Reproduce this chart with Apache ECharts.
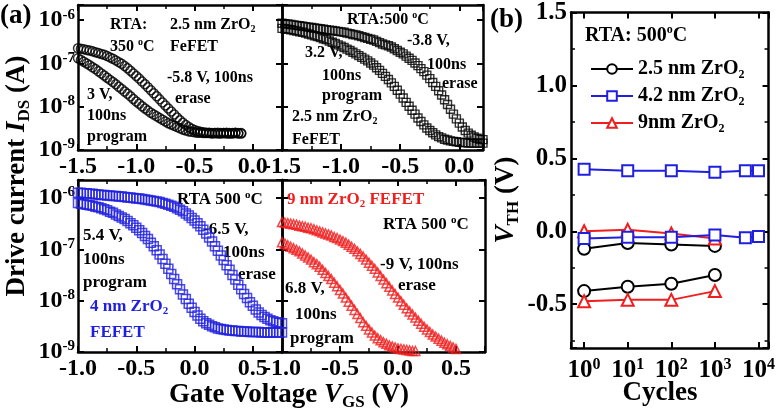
<!DOCTYPE html>
<html><head><meta charset="utf-8">
<script src="https://cdn.jsdelivr.net/npm/echarts@6/dist/echarts.min.js"></script>
<style>html,body{margin:0;padding:0;background:#fff}#c{width:778px;height:413px}</style>
</head><body><div id="c"></div>
<script>
const FONT = '"Liberation Serif","Times New Roman",Times,serif';

// ---------- Panel (a): gate voltage sweeps (V) ----------
const vgsTop = [-1.5,-1.475,-1.45,-1.425,-1.4,-1.375,-1.35,-1.325,-1.3,-1.275,-1.25,-1.225,-1.2,-1.175,-1.15,-1.125,-1.1,-1.075,-1.05,-1.025,-1.0,-0.975,-0.95,-0.925,-0.9,-0.875,-0.85,-0.825,-0.8,-0.775,-0.75,-0.725,-0.7,-0.675,-0.65,-0.625,-0.6,-0.575,-0.55,-0.525,-0.5,-0.475,-0.45,-0.425,-0.4,-0.375,-0.35,-0.325,-0.3,-0.275,-0.25,-0.225,-0.2,-0.175,-0.15,-0.125,-0.1,-0.075,-0.05,-0.025,0.0,0.025,0.05,0.075,0.1,0.125,0.15,0.175,0.2];
const vgsBottom = [-1.0,-0.975,-0.95,-0.925,-0.9,-0.875,-0.85,-0.825,-0.8,-0.775,-0.75,-0.725,-0.7,-0.675,-0.65,-0.625,-0.6,-0.575,-0.55,-0.525,-0.5,-0.475,-0.45,-0.425,-0.4,-0.375,-0.35,-0.325,-0.3,-0.275,-0.25,-0.225,-0.2,-0.175,-0.15,-0.125,-0.1,-0.075,-0.05,-0.025,0.0,0.025,0.05,0.075,0.1,0.125,0.15,0.175,0.2,0.225,0.25,0.275,0.3,0.325,0.35,0.375,0.4,0.425,0.45,0.475,0.5,0.525,0.55,0.575,0.6,0.625,0.65,0.675,0.7,0.725,0.75];

// log10 of drive current I_DS (A)
// 2.5 nm ZrO2, RTA 350 C (circles)
const logI_350_erase = [-6.65,-6.66,-6.67,-6.69,-6.70,-6.72,-6.74,-6.76,-6.78,-6.80,-6.83,-6.86,-6.89,-6.93,-6.97,-7.01,-7.06,-7.11,-7.17,-7.23,-7.29,-7.35,-7.42,-7.48,-7.55,-7.62,-7.69,-7.76,-7.83,-7.90,-7.97,-8.04,-8.11,-8.18,-8.25,-8.31,-8.37,-8.42,-8.47,-8.51,-8.54,-8.56,-8.58,-8.59,-8.60,-8.60,-8.61,-8.61,-8.60,-8.61,-8.61,-8.60,-8.61,-8.61,-8.60,-8.61,-8.61];
const logI_350_prog = [-6.88,-6.92,-6.96,-7.00,-7.04,-7.09,-7.13,-7.18,-7.23,-7.28,-7.33,-7.38,-7.43,-7.48,-7.54,-7.59,-7.65,-7.70,-7.76,-7.82,-7.88,-7.93,-7.99,-8.04,-8.09,-8.14,-8.18,-8.22,-8.26,-8.30,-8.34,-8.38,-8.41,-8.44,-8.47,-8.50,-8.53,-8.55,-8.57,-8.58,-8.59,-8.60,-8.60,-8.61,-8.61,-8.61,-8.62,-8.61,-8.62,-8.62,-8.61,-8.62,-8.62,-8.62,-8.61,-8.62,-8.62];
// 2.5 nm ZrO2, RTA 500 C (squares)
const logI_500_erase = [-6.07,-6.08,-6.09,-6.10,-6.11,-6.12,-6.13,-6.14,-6.15,-6.16,-6.17,-6.18,-6.19,-6.20,-6.21,-6.22,-6.23,-6.24,-6.25,-6.26,-6.27,-6.28,-6.30,-6.31,-6.33,-6.34,-6.36,-6.38,-6.40,-6.42,-6.44,-6.46,-6.49,-6.52,-6.55,-6.57,-6.59,-6.62,-6.66,-6.70,-6.74,-6.78,-6.83,-6.88,-6.93,-6.99,-7.05,-7.12,-7.19,-7.27,-7.35,-7.44,-7.53,-7.63,-7.73,-7.84,-7.95,-8.06,-8.17,-8.28,-8.38,-8.47,-8.55,-8.61,-8.66,-8.70,-8.73,-8.75,-8.76];
const logI_500_prog = [-6.19,-6.20,-6.21,-6.22,-6.24,-6.25,-6.27,-6.28,-6.30,-6.32,-6.34,-6.36,-6.38,-6.40,-6.43,-6.45,-6.48,-6.51,-6.54,-6.57,-6.60,-6.63,-6.67,-6.70,-6.74,-6.78,-6.82,-6.86,-6.90,-6.94,-6.99,-7.04,-7.10,-7.16,-7.23,-7.30,-7.37,-7.45,-7.53,-7.62,-7.71,-7.80,-7.90,-7.99,-8.08,-8.17,-8.26,-8.34,-8.42,-8.49,-8.55,-8.60,-8.65,-8.69,-8.72,-8.75,-8.77,-8.79,-8.80,-8.81,-8.82,-8.83,-8.83,-8.84,-8.84,-8.84,-8.84,-8.84,-8.84];
// 4 nm ZrO2 (blue squares)
const logI_4nm_erase = [-5.90,-5.90,-5.91,-5.91,-5.92,-5.92,-5.93,-5.93,-5.94,-5.94,-5.95,-5.95,-5.96,-5.96,-5.97,-5.97,-5.98,-5.99,-5.99,-6.00,-6.01,-6.01,-6.02,-6.03,-6.04,-6.05,-6.06,-6.07,-6.08,-6.10,-6.11,-6.13,-6.15,-6.17,-6.20,-6.23,-6.26,-6.30,-6.34,-6.39,-6.44,-6.49,-6.55,-6.62,-6.69,-6.77,-6.85,-6.94,-7.03,-7.12,-7.21,-7.31,-7.40,-7.50,-7.59,-7.69,-7.78,-7.87,-7.95,-8.03,-8.10,-8.17,-8.23,-8.28,-8.32,-8.35,-8.38,-8.40,-8.42,-8.43,-8.44];
const logI_4nm_prog = [-6.10,-6.11,-6.12,-6.13,-6.14,-6.15,-6.17,-6.18,-6.20,-6.22,-6.24,-6.27,-6.29,-6.32,-6.35,-6.38,-6.41,-6.45,-6.49,-6.53,-6.58,-6.63,-6.68,-6.74,-6.80,-6.87,-6.94,-7.02,-7.10,-7.19,-7.28,-7.38,-7.48,-7.58,-7.68,-7.78,-7.88,-7.97,-8.06,-8.14,-8.22,-8.29,-8.35,-8.40,-8.44,-8.47,-8.50,-8.52,-8.54,-8.55,-8.56,-8.57,-8.58,-8.58,-8.59,-8.59,-8.60,-8.60,-8.60,-8.61,-8.61,-8.61,-8.61,-8.62,-8.62,-8.62,-8.62,-8.62,-8.62,-8.62,-8.62];
// 9 nm ZrO2 (red triangles)
const logI_9nm_erase = [-6.47,-6.48,-6.49,-6.50,-6.51,-6.52,-6.54,-6.55,-6.56,-6.58,-6.59,-6.61,-6.63,-6.65,-6.67,-6.69,-6.71,-6.73,-6.76,-6.78,-6.81,-6.84,-6.87,-6.91,-6.95,-6.99,-7.04,-7.09,-7.14,-7.20,-7.26,-7.32,-7.38,-7.45,-7.52,-7.59,-7.66,-7.73,-7.80,-7.87,-7.94,-8.01,-8.08,-8.15,-8.21,-8.27,-8.33,-8.39,-8.45,-8.51,-8.56,-8.61,-8.66,-8.70,-8.74,-8.78,-8.82,-8.85,-8.88,-8.91,-8.94];
const logI_9nm_prog = [-6.86,-6.89,-6.92,-6.95,-6.98,-7.01,-7.04,-7.08,-7.12,-7.16,-7.20,-7.25,-7.29,-7.34,-7.40,-7.46,-7.52,-7.58,-7.65,-7.72,-7.79,-7.86,-7.94,-8.02,-8.10,-8.18,-8.26,-8.34,-8.42,-8.49,-8.56,-8.62,-8.68,-8.73,-8.77,-8.81,-8.84,-8.87,-8.89,-8.91,-8.93,-8.94,-8.95,-8.96,-8.97,-8.98,-8.98];

// ---------- Panel (b): V_TH vs cycles ----------
const cycles4 = [1, 10, 100, 1000];
const cycles6 = [1, 10, 100, 1000, 5000, 10000];
const vth25_hi = [-0.12, -0.08, -0.09, -0.10];
const vth25_lo = [-0.41, -0.38, -0.36, -0.30];
const vth42_hi = [0.425, 0.415, 0.415, 0.405, 0.415, 0.415];
const vth42_lo = [-0.05, -0.04, -0.04, -0.025, -0.045, -0.035];
const vth9_hi = [0.0, 0.01, -0.015, -0.05];
const vth9_lo = [-0.48, -0.47, -0.47, -0.41];

const BLUE = '#1f1fe0', RED = '#f01e1e';

const pairsLog = (xs, ys) => ys.map((y, k) => [xs[k], Math.pow(10, y)]);
const pairs = (xs, ys) => ys.map((y, k) => [xs[k], y]);

function rs(size, color) {
  const c = color || '#000';
  const base = {fontFamily: FONT, fontWeight: 'bold', color: c, fill: c, fontSize: size, lineHeight: Math.round(size * 1.2)};
  const small = Math.round(size * 0.62);
  return {
    n: base,
    i: Object.assign({}, base, {fontStyle: 'italic'}),
    sub: Object.assign({}, base, {fontSize: small, lineHeight: small, verticalAlign: 'bottom'}),
    sup: Object.assign({}, base, {fontSize: small, lineHeight: small, verticalAlign: 'top'})
  };
}
const tickRich = (size) => ({
  b: {fontFamily: FONT, fontWeight: 'bold', fontSize: size, color: '#000', lineHeight: size + 2},
  s: {fontFamily: FONT, fontWeight: 'bold', fontSize: Math.round(size * 0.62), color: '#000', lineHeight: Math.round(size * 0.62), verticalAlign: 'top'}
});
const isPow10 = v => { const e = Math.log10(v); return Math.abs(e - Math.round(e)) < 1e-6; };

const lineW = 2.5;
function vx(grid, min, max, pos, labels) {
  return {type: 'value', gridIndex: grid, min: min, max: max, interval: 0.5, position: pos,
    axisLine: {show: true, onZero: false, lineStyle: {color: '#000', width: lineW}},
    axisTick: {show: true, inside: true, length: 6, lineStyle: {color: '#000', width: 2}},
    minorTick: {show: true, splitNumber: 2, length: 4, lineStyle: {color: '#000', width: 1.5}},
    splitLine: {show: false}, minorSplitLine: {show: false},
    axisLabel: {show: labels, margin: 5, fontFamily: FONT, fontWeight: 'bold', fontSize: 24, color: '#000',
      formatter: v => Math.abs(v * 2 - Math.round(v * 2)) < 1e-6 ? v.toFixed(1) : ''}
  };
}
function ly(grid, pos, labels) {
  return {type: 'log', logBase: 10, gridIndex: grid, min: 1e-9, max: 2.24e-6, position: pos,
    axisLine: {show: true, onZero: false, lineStyle: {color: '#000', width: lineW}},
    axisTick: {show: true, inside: true, length: 6, lineStyle: {color: '#000', width: 2}},
    splitLine: {show: false},
    axisLabel: {show: labels, margin: 3, formatter: v => isPow10(v) ? '{b|10}{s|' + Math.round(Math.log10(v)) + '}' : '', rich: tickRich(24)}
  };
}
function cx(pos, labels) {
  return {type: 'log', logBase: 10, gridIndex: 4, min: 0.5, max: 17000, position: pos,
    axisLine: {show: true, onZero: false, lineStyle: {color: '#000', width: lineW}},
    axisTick: {show: true, inside: true, length: 6, lineStyle: {color: '#000', width: 2}},
    splitLine: {show: false},
    axisLabel: {show: labels, margin: 9, formatter: v => isPow10(v) ? '{b|10}{s|' + Math.round(Math.log10(v)) + '}' : '', rich: tickRich(25)}
  };
}
function vy(pos, labels) {
  return {type: 'value', gridIndex: 4, min: -0.8, max: 1.5, splitNumber: 5, position: pos,
    axisLine: {show: true, onZero: false, lineStyle: {color: '#000', width: lineW}},
    axisTick: {show: true, inside: true, length: 6, lineStyle: {color: '#000', width: 2}},
    minorTick: {show: true, splitNumber: 2, length: 4, lineStyle: {color: '#000', width: 1.5}},
    splitLine: {show: false}, minorSplitLine: {show: false},
    axisLabel: {show: labels, margin: 4, fontFamily: FONT, fontWeight: 'bold', fontSize: 25, color: '#000', showMinLabel: false,
      formatter: v => Math.abs(v * 2 - Math.round(v * 2)) < 1e-6 ? v.toFixed(1) : ''}
  };
}

function sc(grid, xs, ys, symbol, size, color, bw) {
  return {type: 'scatter', xAxisIndex: grid * 2, yAxisIndex: grid * 2, data: pairsLog(xs, ys),
    symbol: symbol, symbolSize: size, silent: true,
    itemStyle: {color: 'rgba(255,255,255,0)', borderColor: color, borderWidth: bw}};
}
function ln(name, xs, ys, symbol, size, color) {
  return {type: 'line', name: name, xAxisIndex: 8, yAxisIndex: 8, data: pairs(xs, ys),
    symbol: symbol, symbolSize: size, showAllSymbol: true,
    lineStyle: {color: color, width: 2}, itemStyle: {color: color, borderColor: color, borderWidth: 1.8}};
}

function T(x, y, text, size, color) {
  return {type: 'text', x: x, y: y, silent: true,
    style: {text: text, rich: rs(size, color), align: 'left', verticalAlign: 'middle'}};
}
function TC(x, y, text, size, rot) {
  return {type: 'text', x: x, y: y, silent: true, rotation: rot || 0,
    style: {text: text, rich: rs(size, '#000'), align: 'center', verticalAlign: 'middle'}};
}

const names = {a: '2.5 nm ZrO2', b: '4.2 nm ZrO2', c: '9nm ZrO2'};
const legendFmt = {};
legendFmt[names.a] = '{n|2.5 nm ZrO}{sub|2}';
legendFmt[names.b] = '{n|4.2 nm ZrO}{sub|2}';
legendFmt[names.c] = '{n|9nm ZrO}{sub|2}';

const chart = echarts.init(document.getElementById('c'), null, {renderer: 'canvas'});
chart.setOption({
  animation: false,
  backgroundColor: '#fff',
  grid: [
    {left: 78, top: 5, width: 204, height: 145},
    {left: 282, top: 5, width: 201, height: 145},
    {left: 78, top: 180, width: 204, height: 172},
    {left: 282, top: 180, width: 203, height: 172},
    {left: 571, top: 11, width: 200, height: 337}
  ],
  xAxis: [
    vx(0, -1.5, 0.25, 'bottom', true), vx(0, -1.5, 0.25, 'top', false),
    vx(1, -1.5, 0.2, 'bottom', true), vx(1, -1.5, 0.2, 'top', false),
    vx(2, -1.0, 0.75, 'bottom', true), vx(2, -1.0, 0.75, 'top', false),
    vx(3, -1.0, 0.75, 'bottom', true), vx(3, -1.0, 0.75, 'top', false),
    cx('bottom', true), cx('top', false)
  ],
  yAxis: [
    ly(0, 'left', true), ly(0, 'right', false),
    ly(1, 'left', false), ly(1, 'right', false),
    ly(2, 'left', true), ly(2, 'right', false),
    ly(3, 'left', false), ly(3, 'right', false),
    vy('left', true), vy('right', false)
  ],
  legend: {
    orient: 'vertical', left: 585, top: 54, itemWidth: 42, itemHeight: 12, itemGap: 5,
    data: [names.a, names.b, names.c],
    formatter: n => legendFmt[n],
    textStyle: {rich: rs(20, '#000')},
    selectedMode: false
  },
  series: [
    sc(0, vgsTop, logI_350_erase, 'circle', 9, '#000', 1.5),
    sc(0, vgsTop, logI_350_prog, 'circle', 9, '#000', 1.5),
    sc(1, vgsTop, logI_500_erase, 'rect', 8, '#000', 1.4),
    sc(1, vgsTop, logI_500_prog, 'rect', 8, '#000', 1.4),
    sc(2, vgsBottom, logI_4nm_erase, 'rect', 9, BLUE, 1.5),
    sc(2, vgsBottom, logI_4nm_prog, 'rect', 9, BLUE, 1.5),
    sc(3, vgsBottom, logI_9nm_erase, 'triangle', 9, RED, 1.5),
    sc(3, vgsBottom, logI_9nm_prog, 'triangle', 9, RED, 1.5),
    ln(names.a, cycles4, vth25_hi, 'emptyCircle', 12, '#000'),
    ln(names.a, cycles4, vth25_lo, 'emptyCircle', 12, '#000'),
    ln(names.c, cycles4, vth9_hi, 'emptyTriangle', 12, RED),
    ln(names.c, cycles4, vth9_lo, 'emptyTriangle', 12, RED),
    ln(names.b, cycles6, vth42_hi, 'emptyRect', 11, BLUE),
    ln(names.b, cycles6, vth42_lo, 'emptyRect', 11, BLUE)
  ],
  graphic: [
    T(0, 16, '{n|(a)}', 27),
    T(490, 20, '{n|(b)}', 27),
    // top-left
    T(110, 25, '{n|RTA:}', 16),
    T(110, 47, '{n|350 }{sup|o}{n|C}', 16),
    T(170, 25, '{n|2.5 nm ZrO}{sub|2}', 16),
    T(170, 47, '{n|FeFET}', 16),
    T(167, 78, '{n|-5.8 V, 100ns}', 16),
    T(175, 99, '{n|erase}', 16),
    T(87, 95, '{n|3 V,}', 16),
    T(87, 116, '{n|100ns}', 16),
    T(87, 137, '{n|program}', 16),
    // top-right
    T(347, 20, '{n|RTA:500 }{sup|o}{n|C}', 16),
    T(407, 41, '{n|-3.8 V,}', 16),
    T(305, 53, '{n|3.2 V,}', 16),
    T(427, 65, '{n|100ns}', 16),
    T(322, 76, '{n|100ns}', 16),
    T(442, 84, '{n|erase}', 16),
    T(322, 96, '{n|program}', 16),
    T(292, 117, '{n|2.5 nm ZrO}{sub|2}', 16),
    T(292, 140, '{n|FeFET}', 16),
    // bottom-left
    T(177, 200, '{n|RTA 500 }{sup|o}{n|C}', 17),
    T(203, 230, '{n|-6.5 V,}', 17),
    T(83, 236, '{n|5.4 V,}', 17),
    T(223, 253, '{n|100ns}', 17),
    T(83, 260, '{n|100ns}', 17),
    T(238, 275, '{n|erase}', 17),
    T(83, 283, '{n|program}', 17),
    T(90, 307, '{n|4 nm ZrO}{sub|2}', 17, BLUE),
    T(90, 333, '{n|FEFET}', 17, BLUE),
    // bottom-right
    T(287, 200, '{n|9 nm ZrO}{sub|2}{n| FEFET}', 17, RED),
    T(383, 225, '{n|RTA 500 }{sup|o}{n|C}', 17),
    T(380, 265, '{n|-9 V, 100ns}', 17),
    T(398, 286, '{n|erase}', 17),
    T(285, 289, '{n|6.8 V,}', 17),
    T(295, 315, '{n|100ns}', 17),
    T(290, 339, '{n|program}', 17),
    // panel (b) annotation
    T(585, 36, '{n|RTA: 500}{sup|o}{n|C}', 20),
    // axis titles
    TC(289, 395, '{n|Gate Voltage }{i|V}{sub|GS}{n| (V)}', 27),
    TC(660, 393, '{n|Cycles}', 27),
    TC(17, 176, '{n|Drive current }{i|I}{sub|DS}{n| (A)}', 27, Math.PI / 2),
    TC(506, 200, '{i|V}{sub|TH}{n| (V)}', 27, Math.PI / 2)
  ]
});
</script>
</body></html>
